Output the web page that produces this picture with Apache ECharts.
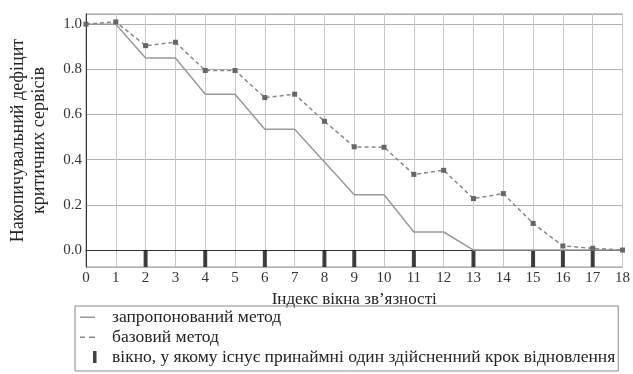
<!DOCTYPE html>
<html><head><meta charset="utf-8">
<script src="https://cdn.jsdelivr.net/npm/echarts@6/dist/echarts.min.js"></script>
<style>html,body{margin:0;padding:0;background:#fff}#c{width:633px;height:374px}</style>
</head><body><div id="c"></div>
<script>
var xValues = [0,1,2,3,4,5,6,7,8,9,10,11,12,13,14,15,16,17,18];
var proposed = [1.0,1.0,0.85,0.85,0.69,0.69,0.535,0.535,0.39,0.245,0.245,0.08,0.08,0.0,0.0,0.0,0.0,0.0,0.0];
var baseline = [1.0,1.01,0.905,0.92,0.795,0.795,0.675,0.69,0.57,0.457,0.455,0.335,0.353,0.228,0.25,0.118,0.018,0.008,0.0];
var feasibleWindows = [2,4,6,8,9,11,13,15,16,17];
var yTickLabels = ['0.0','0.2','0.4','0.6','0.8','1.0'];
var names = ['запропонований метод','базовий метод','вікно, у якому існує принаймні один здійсненний крок відновлення'];
var FONT = "'Liberation Serif','Times New Roman',serif";

var chart = echarts.init(document.getElementById('c'));
chart.setOption({
  animation:false,
  backgroundColor:'#fff',
  textStyle:{fontFamily:FONT},
  grid:{left:77,right:10,top:14,bottom:107,show:true,borderColor:'#999',borderWidth:1},
  xAxis:{type:'value',min:0,max:18,interval:1,
    name:'Індекс вікна зв\u2019язності',nameLocation:'middle',nameGap:21,
    nameTextStyle:{fontFamily:FONT,fontSize:17,color:'#222'},
    axisLine:{lineStyle:{color:'#333'}},axisTick:{show:false},
    axisLabel:{fontFamily:FONT,fontSize:15,color:'#333',margin:4},
    splitLine:{show:true,lineStyle:{color:'#c8c8c8'}}},
  yAxis:{type:'value',min:-0.075,max:1.045,splitNumber:5,
    name:'Накопичувальний дефіцит\nкритичних сервісів',nameLocation:'middle',nameGap:36,nameRotate:90,
    nameTextStyle:{fontFamily:FONT,fontSize:18,color:'#222',lineHeight:21},
    axisLine:{show:true,lineStyle:{color:'#333'}},axisTick:{show:false},
    axisLabel:{fontFamily:FONT,fontSize:15,color:'#333',margin:4,showMinLabel:false,showMaxLabel:false,
      formatter:function(v){var i=Math.round(v/0.2);return (Math.abs(v-i*0.2)<1e-6&&yTickLabels[i])?yTickLabels[i]:'';}},
    splitLine:{show:true,lineStyle:{color:'#b0b0b0'}}},
  legend:{orient:'vertical',left:75,top:306,height:58,padding:[2,3,5,5],itemGap:2,itemWidth:27,itemHeight:12,
    borderColor:'#888',borderWidth:1,
    textStyle:{fontFamily:FONT,fontSize:17.5,lineHeight:17,color:'#222'},
    data:[
      {name:names[0],icon:'path://M0,0 M27,12 M0,5.5 h15 v1.5 h-15 z',itemStyle:{color:'#999'}},
      {name:names[1],icon:'path://M0,0 M27,12 M0,5.5 h5 v1.5 h-5 z M9,5.5 h6 v1.5 h-6 z',itemStyle:{color:'#888'}},
      {name:names[2],icon:'path://M0,0 M27,12 M13,0 h3.5 v12 h-3.5 z',itemStyle:{color:'#111'}}
    ]},
  series:[
    {name:names[0],type:'line',data:xValues.map(function(x,i){return [x,proposed[i]];}),
      showSymbol:false,lineStyle:{color:'#999',width:1.5},itemStyle:{color:'#999'}},
    {name:names[1],type:'line',data:xValues.map(function(x,i){return [x,baseline[i]];}),
      symbol:'rect',symbolSize:5,lineStyle:{color:'#888',width:1.5,type:[4,3]},itemStyle:{color:'#666'}},
    {name:names[2],type:'scatter',data:feasibleWindows.map(function(x){return [x,-0.0375];}),
      symbol:'rect',symbolSize:[4,17],itemStyle:{color:'#111'}}
  ]
});
</script></body></html>
